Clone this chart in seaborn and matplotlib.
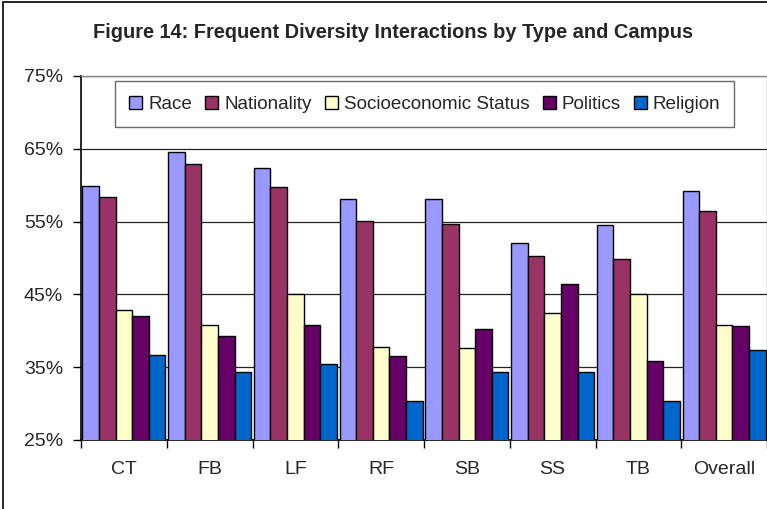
import numpy as np
import pandas as pd
import matplotlib
matplotlib.use("Agg")
import matplotlib.pyplot as plt
from matplotlib.patches import Rectangle
import seaborn as sns

# Daten
campuses = ["CT", "FB", "LF", "RF", "SB", "SS", "TB", "Overall"]
types = ["Race", "Nationality", "Socioeconomic Status", "Politics", "Religion"]
race = [59.9, 64.6, 62.4, 58.1, 58.1, 52.0, 54.5, 59.2]
nationality = [58.4, 62.9, 59.7, 55.1, 54.7, 50.3, 49.8, 56.5]
socioeconomic = [42.8, 40.8, 45.1, 37.8, 37.6, 42.5, 45.0, 40.8]
politics = [42.1, 39.3, 40.8, 36.6, 40.3, 46.4, 35.9, 40.6]
religion = [36.7, 34.3, 35.5, 30.4, 34.4, 34.4, 30.4, 37.4]
colors = ["#9999FF", "#993366", "#FFFFCC", "#660066", "#0066CC"]
yticks = [25, 35, 45, 55, 65, 75]

series = [race, nationality, socioeconomic, politics, religion]
rows = []
for name, vals in zip(types, series):
    for c, v in zip(campuses, vals):
        rows.append({"Campus": c, "Type": name, "Value": v})
df = pd.DataFrame(rows)

sns.set_style("white")
plt.rcParams["font.family"] = ["Liberation Sans", "DejaVu Sans"]

fig = plt.figure(figsize=(7.67, 5.09), dpi=100)
ax = fig.add_axes([81 / 767, 1 - 440 / 509, 686 / 767, 364 / 509])

sns.barplot(data=df, x="Campus", y="Value", hue="Type", order=campuses,
            hue_order=types, palette=colors, width=0.97, gap=0,
            edgecolor="black", linewidth=1.0, saturation=1, ax=ax, zorder=3)

ax.set_ylim(25, 75)
ax.set_xlim(-0.5, len(campuses) - 0.5)
ax.set_yticks(yticks)
ax.set_yticklabels([f"{t}%" for t in yticks], fontsize=14)
ax.yaxis.grid(True, color="#222222", linewidth=0.9, zorder=0)
ax.set_axisbelow(True)

# Kategorie-Grenzen als Striche, Beschriftung in der Mitte
ax.set_xticks(np.arange(-0.5, len(campuses), 1.0))
ax.set_xticklabels([])
ax.set_xticks(np.arange(len(campuses)), minor=True)
ax.set_xticklabels(campuses, minor=True, fontsize=14)
ax.tick_params(axis="x", which="major", length=6, width=1, color="black", direction="out", bottom=True)
ax.tick_params(axis="x", which="minor", length=0, pad=15)
ax.tick_params(axis="y", length=6, width=1, color="black", direction="out", left=True, pad=7)

ax.set_xlabel("")
ax.set_ylabel("")
for s in ["left", "bottom"]:
    ax.spines[s].set_color("black")
    ax.spines[s].set_linewidth(1.2)
for s in ["top", "right"]:
    ax.spines[s].set_color("#888888")
    ax.spines[s].set_linewidth(1.0)

leg = ax.legend(loc="upper left", bbox_to_anchor=(34 / 686, 0.985), ncol=5,
                fontsize=13.6, frameon=True, fancybox=False, edgecolor="#444444",
                handlelength=0.7, handleheight=0.7, handletextpad=0.3,
                columnspacing=0.7, borderpad=0.75, borderaxespad=0)
leg.get_frame().set_linewidth(1.0)

fig.text(393 / 767, 1 - 32 / 509, "Figure 14: Frequent Diversity Interactions by Type and Campus",
         ha="center", va="center", fontsize=14.4, fontweight="bold")

# Rahmen um das Diagramm
fig.patches.append(Rectangle((3 / 767, -0.1), 1.1, 0.1 + 1 - 2 / 509, transform=fig.transFigure,
                             fill=False, edgecolor="black", linewidth=1.2, clip_on=False))

fig.savefig("out.png", dpi=100, facecolor="white")
